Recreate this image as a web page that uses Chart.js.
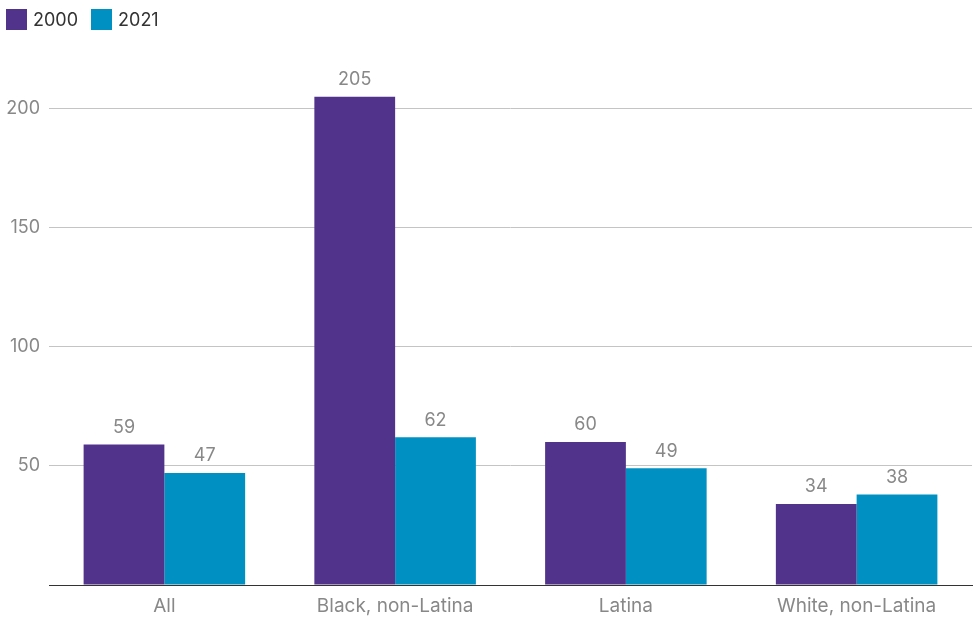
<!DOCTYPE html>
<html><head><meta charset="utf-8">
<script src="https://cdn.jsdelivr.net/npm/chart.js@4/dist/chart.umd.min.js"></script>
<style>
html,body{margin:0;padding:0;background:#fff}
#wrap{width:977px;height:619px;position:relative}
#legend{position:absolute;left:6px;top:9px;display:flex;align-items:center;font:18px Inter,'Noto Sans',sans-serif;color:#333}
#legend .item{display:flex;align-items:center;margin-right:13px}
#legend .sw{width:21px;height:21px;margin-right:6px}
</style>
</head><body><div id="wrap"><canvas id="c"></canvas><div id="legend"></div></div>
<script>
const categories = ["All", "Black, non-Latina", "Latina", "White, non-Latina"];
const series2000 = [59, 205, 60, 34];
const series2021 = [47, 62, 49, 38];
const seriesNames = ["2000", "2021"];
const seriesColors = ["#51338b", "#0091c2"];
const yTicks = [0, 50, 100, 150, 200];

const FONT = "Inter, 'Noto Sans', sans-serif";
const labelPlugin = {
  id: 'valueLabels',
  afterDatasetsDraw(chart) {
    const ctx = chart.ctx;
    ctx.save();
    ctx.font = "18px " + FONT;
    ctx.fillStyle = "#888888";
    ctx.textAlign = "center";
    ctx.textBaseline = "bottom";
    chart.data.datasets.forEach((ds, i) => {
      chart.getDatasetMeta(i).data.forEach((bar, j) => {
        ctx.fillText(String(ds.data[j]), bar.x, bar.y - 8);
      });
    });
    ctx.restore();
  }
};

const chart = new Chart(document.getElementById('c'), {
  type: 'bar',
  data: {
    labels: categories,
    datasets: [
      { label: seriesNames[0], data: series2000, backgroundColor: seriesColors[0], categoryPercentage: 0.7, barPercentage: 1.0 },
      { label: seriesNames[1], data: series2021, backgroundColor: seriesColors[1], categoryPercentage: 0.7, barPercentage: 1.0 }
    ]
  },
  options: {
    responsive: true,
    maintainAspectRatio: false,
    animation: false,
    layout: { padding: { left: 7, right: 5, top: 61, bottom: 3 } },
    plugins: {
      legend: { display: false },
      tooltip: { enabled: false }
    },
    scales: {
      x: {
        afterFit(axis) { axis.height = 31; },
        grid: { display: false, drawTicks: false },
        border: { display: true, color: '#333', width: 1 },
        ticks: { color: '#888', font: { family: FONT, size: 19 }, padding: 10 }
      },
      y: {
        min: 0, max: 220,
        afterBuildTicks(axis) { axis.ticks = yTicks.map(v => ({ value: v })); },
        afterFit(axis) { axis.width = 42; },
        border: { display: false },
        grid: { color: ctx => ctx.tick && ctx.tick.value === 0 ? 'rgba(0,0,0,0)' : '#c4c4c4', drawTicks: false },
        ticks: { color: '#888', font: { family: FONT, size: 18 }, padding: 9,
          callback: v => v === 0 ? '' : String(v) }
      }
    }
  },
  plugins: [labelPlugin]
});

const leg = document.getElementById('legend');
chart.data.datasets.forEach(ds => {
  const it = document.createElement('div'); it.className = 'item';
  const sw = document.createElement('span'); sw.className = 'sw'; sw.style.background = ds.backgroundColor;
  const tx = document.createElement('span'); tx.textContent = ds.label;
  it.appendChild(sw); it.appendChild(tx); leg.appendChild(it);
});
</script></body></html>
